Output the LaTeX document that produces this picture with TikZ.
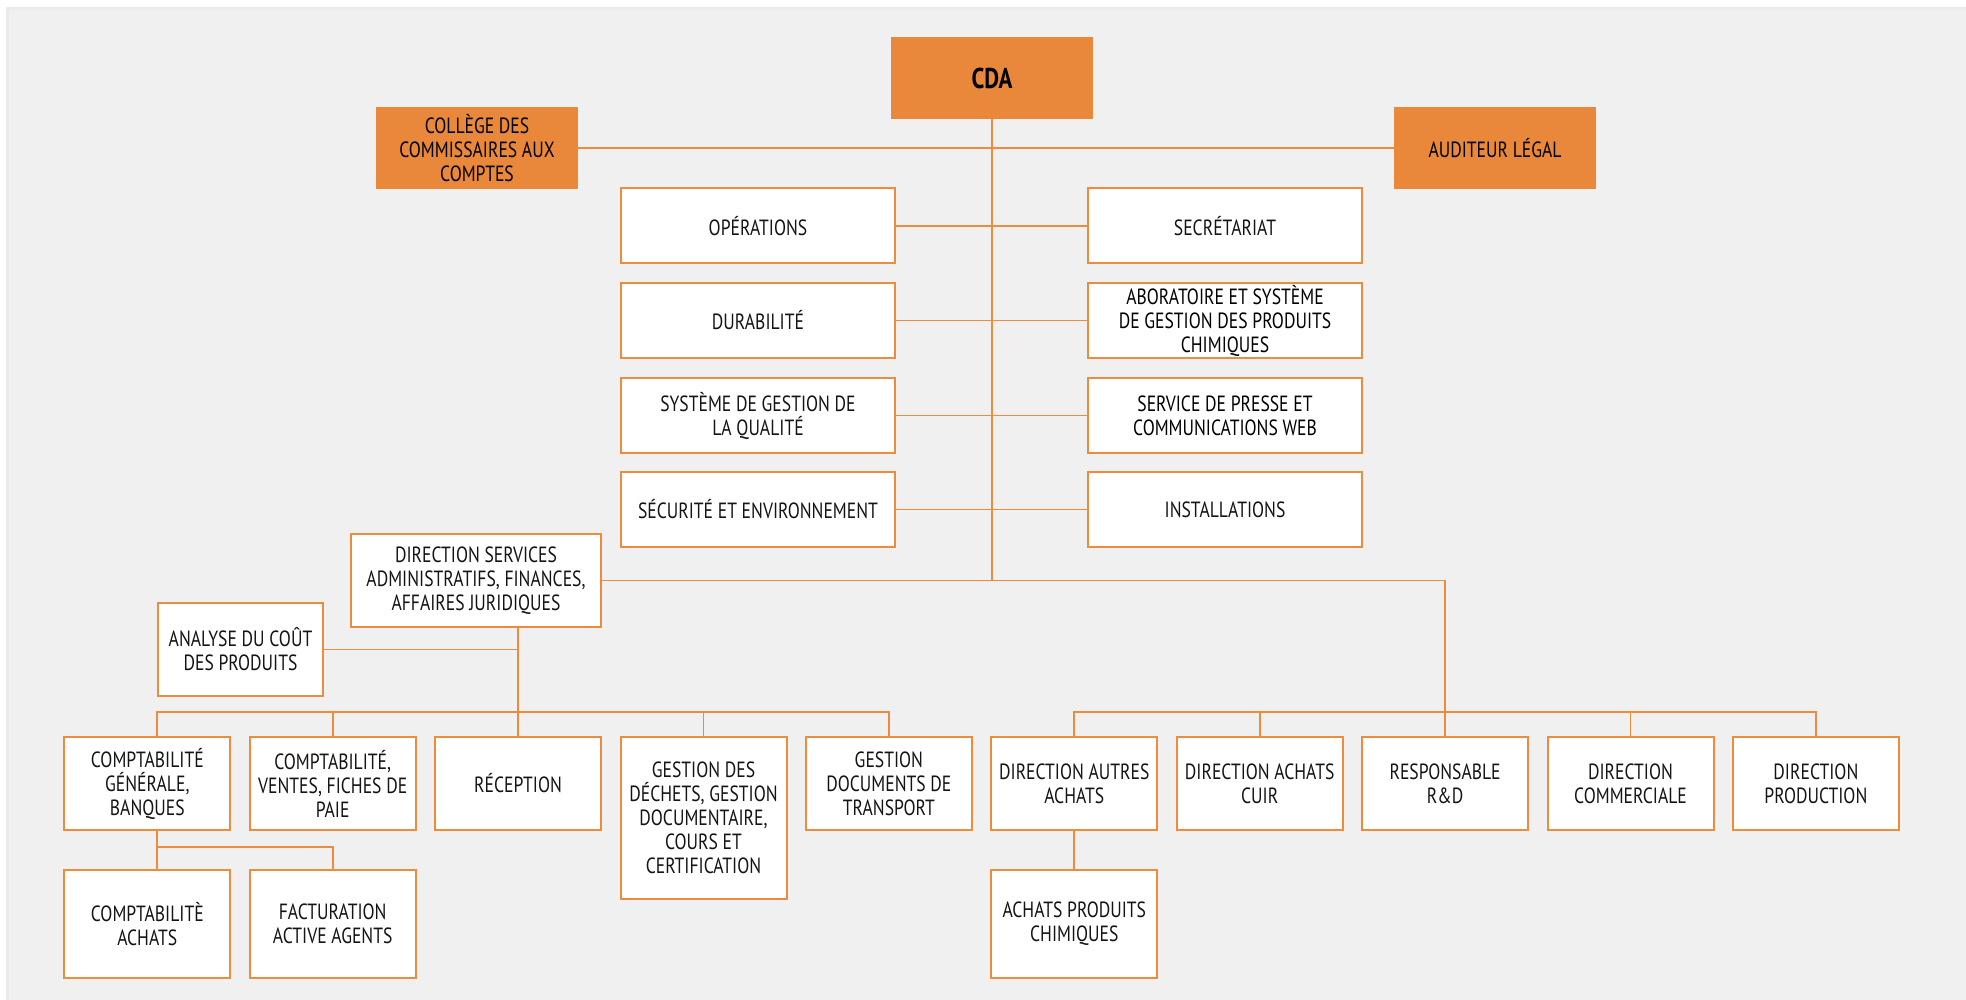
\documentclass[tikz,border=0pt]{standalone}
\usepackage{fontspec}
\setmainfont{PT Sans}[FakeStretch=0.8]
\usepackage{tikz}
\usetikzlibrary{positioning, calc}
\definecolor{orgbox}{RGB}{233,136,58}
\definecolor{orgline}{RGB}{238,140,62}
\definecolor{panelgray}{RGB}{240,240,240}

\begin{document}
\begin{tikzpicture}[x=0.5pt, y=-0.5pt,
		unit/.style={draw=orgline, fill=white, line width=1pt, align=center, inner sep=0pt, text=black!92, font=\fontsize{11}{12}\selectfont},
		head/.style={fill=orgbox, align=center, inner sep=0pt, minimum width=101pt, minimum height=41pt, text=black, font=\fontsize{11}{12}\selectfont},
		col/.style={unit, minimum width=137pt, minimum height=37.5pt},
		cell/.style={unit, minimum width=83pt, minimum height=46.5pt},
		link/.style={draw=orgline, line width=0.9pt}]
		\useasboundingbox (0,0) rectangle (1966,1000);
		\filldraw[fill=panelgray, draw=black!8, line width=1.2pt] (7.5,8.5) rectangle (1975,1010);
		
		\node[head, font=\bfseries\fontsize{14.3}{16}\selectfont] (cda) at (992,78) {CDA};
		\node[head] (college) at (477,148) {COLLÈGE DES\\COMMISSAIRES AUX\\COMPTES};
		\node[head] (auditeur) at (1495,148) {AUDITEUR LÉGAL};
		
		\node[col] (ops) at (758,226) {OPÉRATIONS};
		\node[col] (dura) at (758,320.5) {DURABILITÉ};
		\node[col] (qual) at (758,415.5) {SYSTÈME DE GESTION DE\\LA QUALITÉ};
		\node[col] (secu) at (758,509.5) {SÉCURITÉ ET ENVIRONNEMENT};
		\node[col] (secr) at (1225,226) {SECRÉTARIAT};
		\node[col, text=black] (labo) at (1225,320.5) {ABORATOIRE ET SYSTÈME\\DE GESTION DES PRODUITS\\CHIMIQUES};
		\node[col, text=black] (presse) at (1225,415.5) {SERVICE DE PRESSE ET\\COMMUNICATIONS WEB};
		\node[col] (instal) at (1225,509.5) {INSTALLATIONS};
		
		\node[unit, minimum width=125pt, minimum height=46.5pt] (dsaf) at (476,580.5) {DIRECTION SERVICES\\ADMINISTRATIFS, FINANCES,\\AFFAIRES JURIDIQUES};
		\node[unit, minimum width=82.5pt, minimum height=46.5pt] (analyse) at (240.5,649.5) {ANALYSE DU COÛT\\DES PRODUITS};
		
		\node[cell] (cg) at (147.3,783.5) {COMPTABILITÉ\\GÉNÉRALE,\\BANQUES};
		\node[cell] (cv) at (332.7,783.5) {COMPTABILITÉ,\\VENTES, FICHES DE\\PAIE};
		\node[cell] (rec) at (518.1,783.5) {RÉCEPTION};
		\node[cell, minimum height=81pt] (gd) at (703.5,818) {GESTION DES\\DÉCHETS, GESTION\\DOCUMENTAIRE,\\COURS ET\\CERTIFICATION};
		\node[cell] (gt) at (888.9,783.5) {GESTION\\DOCUMENTS DE\\TRANSPORT};
		\node[cell] (daa) at (1074.3,783.5) {DIRECTION AUTRES\\ACHATS};
		\node[cell] (dac) at (1259.7,783.5) {DIRECTION ACHATS\\CUIR};
		\node[cell] (rd) at (1445.1,783.5) {RESPONSABLE\\R\&D};
		\node[cell] (dc) at (1630.5,783.5) {DIRECTION\\COMMERCIALE};
		\node[cell] (dp) at (1815.9,783.5) {DIRECTION\\PRODUCTION};
		
		\node[cell, minimum height=54pt] (ca) at (147.3,924) {COMPTABILITÈ\\ACHATS};
		\node[cell, minimum height=54pt] (fact) at (332.7,924) {FACTURATION\\ACTIVE AGENTS};
		\node[cell, minimum height=54pt] (apc) at (1074.3,924) {ACHATS PRODUITS\\CHIMIQUES};
		
		\draw[link] (college.east) -- (auditeur.west);
		\draw[link] (cda.south) -- (cda.south |- dsaf.east);
		\draw[link] (ops.east) -- (secr.west);
		\draw[link] (dura.east) -- (labo.west);
		\draw[link] (qual.east) -- (presse.west);
		\draw[link] (secu.east) -- (instal.west);
		\draw[link] (dsaf.east) -| (rd.north);
		
		\draw[link] (dsaf.south -| rec.north) -- (rec.north);
		\draw[link] (analyse.east) -- (analyse.east -| rec.north);
		\draw[link] (analyse.west |- cg.north) -- ++(0,-24) -| (gt.north);
		\draw[link] (cv.north) -- ++(0,-24);
		\draw[link] (gd.north) -- ++(0,-24);
		\draw[link] (daa.north) -- ++(0,-24) -| (dp.north);
		\draw[link] (dac.north) -- ++(0,-24);
		\draw[link] (dc.north) -- ++(0,-24);
		
		\draw[link] (analyse.west |- cg.south) -- (analyse.west |- ca.north);
		\draw[link] (analyse.west |- cg.south) ++(0,16) -| (fact.north);
		\draw[link] (daa.south) -- (apc.north);
\end{tikzpicture}
\end{document}
